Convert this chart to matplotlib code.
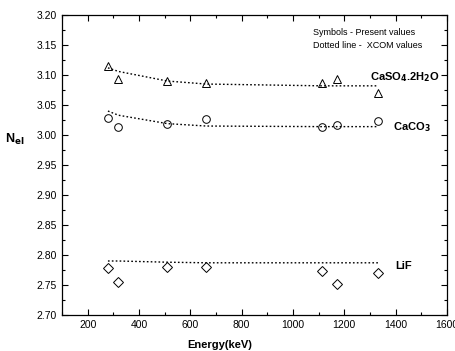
import matplotlib
matplotlib.use("Agg")
import matplotlib.pyplot as plt
from matplotlib.ticker import MultipleLocator

plt.rcParams['font.family'] = ['Liberation Sans', 'DejaVu Sans']

energy = [279, 320, 511, 662, 1115, 1173, 1332]

caso4_present = [3.115, 3.093, 3.090, 3.086, 3.086, 3.093, 3.070]
caco3_present = [3.028, 3.014, 3.019, 3.026, 3.013, 3.017, 3.023]
lif_present = [2.778, 2.755, 2.780, 2.780, 2.774, 2.751, 2.770]

caso4_xcom = [3.112, 3.106, 3.090, 3.085, 3.082, 3.082, 3.082]
caco3_xcom = [3.040, 3.033, 3.019, 3.015, 3.014, 3.014, 3.014]
lif_xcom = [2.790, 2.790, 2.788, 2.787, 2.787, 2.787, 2.787]

x_ticks = [200, 400, 600, 800, 1000, 1200, 1400, 1600]
y_ticks = [2.70, 2.75, 2.80, 2.85, 2.90, 2.95, 3.00, 3.05, 3.10, 3.15, 3.20]

fig = plt.figure(figsize=(4.56, 3.51), dpi=100)
ax = fig.add_axes([0.136, 0.1026, 0.844, 0.8545])

line_kw = dict(color='black', linestyle=(0, (1.2, 1.6)), linewidth=1.0)
mk_kw = dict(linestyle='none', markerfacecolor='none', markeredgecolor='black',
             markeredgewidth=0.7, markersize=5.5)

ax.plot(energy, caso4_xcom, **line_kw)
ax.plot(energy, caco3_xcom, **line_kw)
ax.plot(energy, lif_xcom, **line_kw)
ax.plot(energy, caso4_present, marker='^', **mk_kw)
ax.plot(energy, caco3_present, marker='o', **mk_kw)
ax.plot(energy, lif_present, marker='D', **{**mk_kw, 'markersize': 4.6})

ax.set_xlim(100, 1600)
ax.set_ylim(2.70, 3.20)
ax.set_xticks(x_ticks)
ax.set_yticks(y_ticks)
ax.set_yticklabels([f"{v:.2f}" for v in y_ticks])
ax.xaxis.set_minor_locator(MultipleLocator(100))
ax.yaxis.set_minor_locator(MultipleLocator(0.025))
ax.tick_params(which='both', direction='in', top=True, right=True, labelsize=7.5, width=0.8)
ax.tick_params(which='major', length=4)
ax.tick_params(which='minor', length=2.2)
for s in ax.spines.values():
    s.set_linewidth(0.9)

ax.set_xlabel('Energy(keV)', fontsize=8, fontweight='bold')
ax.xaxis.set_label_coords(0.41, -0.082)
ax.set_ylabel('N$_{\\mathbf{el}}$', fontsize=9, fontweight='bold', rotation=0)
ax.yaxis.set_label_coords(-0.122, 0.56)

ax.text(1300, 3.096, 'CaSO$_\\mathbf{4}$.2H$_\\mathbf{2}$O', fontsize=8, fontweight='bold', va='center', ha='left')
ax.text(1389, 3.013, 'CaCO$_\\mathbf{3}$', fontsize=8, fontweight='bold', va='center', ha='left')
ax.text(1400, 2.782, 'LiF', fontsize=8, fontweight='bold', va='center', ha='left')

ax.text(1077, 3.171, 'Symbols - Present values', fontsize=6.5, va='center', ha='left')
ax.text(1077, 3.150, 'Dotted line -  XCOM values', fontsize=6.5, va='center', ha='left')

fig.savefig('out.png', dpi=100)
